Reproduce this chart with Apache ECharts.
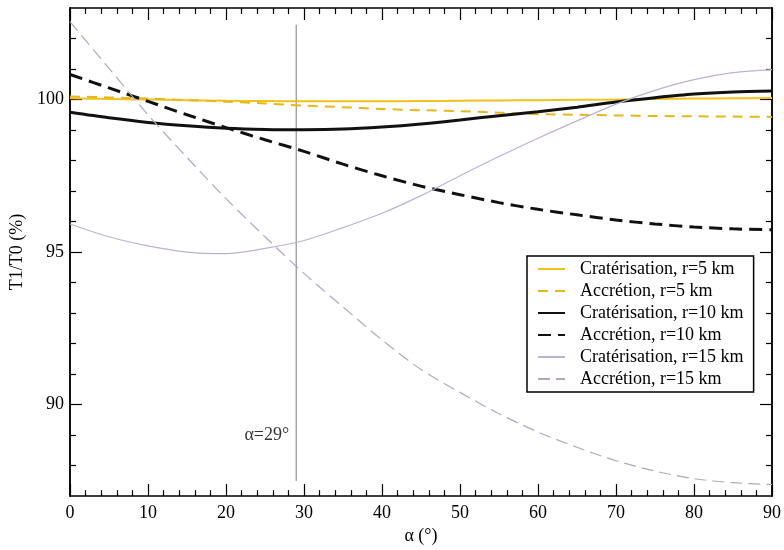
<!DOCTYPE html>
<html>
<head>
<meta charset="utf-8">
<script src="https://cdn.jsdelivr.net/npm/echarts@6/dist/echarts.min.js"></script>
<style>html,body{margin:0;padding:0;background:#fff}#c{width:784px;height:550px}</style>
</head>
<body>
<div id="c"></div>
<script>
const alpha = [0,5,10,15,20,25,30,35,40,45,50,55,60,65,70,75,80,85,90];
const crat5  = [100.04,100.02,100.0,99.98,99.96,99.95,99.94,99.94,99.94,99.95,99.96,99.97,99.98,99.99,100.0,100.02,100.03,100.04,100.05];
const accr5  = [100.1,100.07,100.03,99.98,99.93,99.87,99.8,99.75,99.69,99.65,99.62,99.57,99.52,99.5,99.48,99.46,99.45,99.44,99.43];
const crat10 = [99.58,99.4,99.25,99.14,99.06,99.02,99.01,99.03,99.1,99.2,99.33,99.47,99.6,99.75,99.92,100.06,100.18,100.25,100.28];
const accr10 = [100.82,100.38,99.94,99.5,99.08,98.68,98.3,97.88,97.5,97.16,96.88,96.62,96.4,96.22,96.05,95.92,95.82,95.76,95.73];
const crat15 = [95.92,95.5,95.2,95.0,94.95,95.12,95.38,95.8,96.27,96.85,97.5,98.13,98.73,99.3,99.85,100.3,100.65,100.88,100.98];
const accr15 = [102.55,101.02,99.5,98.1,96.75,95.5,94.3,93.2,92.12,91.15,90.4,89.7,89.1,88.6,88.16,87.82,87.57,87.44,87.38];
const refAlpha = 29;
const refLine = [102.45, 87.5];
const refLabelY = 89.0;
const yLabels = [90, 95, 100];
const yMinor = [88,89,91,92,93,94,96,97,98,99,101,102];
const names = ['Cratérisation, r=5 km','Accrétion, r=5 km','Cratérisation, r=10 km','Accrétion, r=10 km','Cratérisation, r=15 km','Accrétion, r=15 km'];

const FONT = 'Liberation Serif';
const pairs = arr => alpha.map((a,i)=>[a,arr[i]]);
function mk(name, data, color, width, type){
  return {name, type:'line', data:pairs(data), symbol:'none', smooth:0.3,
    lineStyle:{color, width, type}, itemStyle:{color, opacity:0}, z:3};
}
const yBase = {type:'value', min:87, max:103, splitLine:{show:false},
  axisLine:{show:true, lineStyle:{color:'#000', width:1.5}}};
const chart = echarts.init(document.getElementById('c'));
chart.setOption({
  animation:false,
  grid:{left:70, right:8, top:8, bottom:52},
  textStyle:{fontFamily:FONT},
  legend:{
    data:names, orient:'vertical', left:527, top:256,
    itemWidth:27, itemHeight:14, itemGap:4,
    padding:[4,10,4,10], borderColor:'#000', borderWidth:1.5,
    itemStyle:{opacity:0},
    textStyle:{fontFamily:FONT, fontSize:18, lineHeight:18, color:'#000', padding:[0,0,0,10]}
  },
  xAxis:[
    {type:'value', min:0, max:90, interval:10, position:'bottom',
     name:'α (°)', nameLocation:'middle', nameGap:30,
     nameTextStyle:{fontFamily:FONT, fontSize:18, color:'#000'},
     splitLine:{show:false},
     axisLine:{lineStyle:{color:'#000', width:1.5}},
     axisTick:{inside:true, length:12, lineStyle:{color:'#000', width:1.2}},
     minorTick:{show:true, splitNumber:5, length:6, lineStyle:{color:'#000', width:1.2}},
     axisLabel:{fontFamily:FONT, fontSize:18, color:'#000', margin:8}},
    {type:'value', min:0, max:90, interval:10, position:'top',
     splitLine:{show:false},
     axisLine:{lineStyle:{color:'#000', width:1.5}},
     axisTick:{inside:true, length:12, lineStyle:{color:'#000', width:1.2}},
     minorTick:{show:true, splitNumber:5, length:6, lineStyle:{color:'#000', width:1.2}},
     axisLabel:{show:false}}
  ],
  yAxis:[
    Object.assign({}, yBase, {position:'left',
      name:'T1/T0 (%)', nameLocation:'middle', nameGap:44, nameRotate:90,
      nameTextStyle:{fontFamily:FONT, fontSize:18, color:'#000'},
      axisTick:{inside:true, length:12, customValues:yLabels, lineStyle:{color:'#000', width:1.2}},
      axisLabel:{customValues:yLabels, fontFamily:FONT, fontSize:18, color:'#000', margin:6}}),
    Object.assign({}, yBase, {position:'left',
      axisTick:{inside:true, length:6, customValues:yMinor, lineStyle:{color:'#000', width:1.2}},
      axisLabel:{show:false}}),
    Object.assign({}, yBase, {position:'right',
      axisTick:{inside:true, length:12, customValues:yLabels, lineStyle:{color:'#000', width:1.2}},
      axisLabel:{show:false}}),
    Object.assign({}, yBase, {position:'right',
      axisTick:{inside:true, length:6, customValues:yMinor, lineStyle:{color:'#000', width:1.2}},
      axisLabel:{show:false}})
  ],
  series:[
    {name:'ref', type:'line', data:[[refAlpha, refLine[0]],[refAlpha, refLine[1]]], symbol:'none',
     lineStyle:{color:'#7a7a7a', width:1}, z:2, silent:true},
    {name:'reflabel', type:'scatter', data:[[refAlpha, refLabelY]], symbolSize:0,
     label:{show:true, position:'left', distance:7, formatter:'α=29°', fontFamily:FONT, fontSize:18, color:'#000'}, silent:true},
    mk(names[0], crat5, '#f2c21b', 2, 'solid'),
    mk(names[1], accr5, '#e9b71a', 2, [10,7]),
    mk(names[2], crat10, '#111111', 3, 'solid'),
    mk(names[3], accr10, '#111111', 3, [13,7]),
    mk(names[4], crat15, '#bfb0d6', 1.2, 'solid'),
    mk(names[5], accr15, '#b3a5c8', 1.2, [12,6])
  ]
});
</script>
</body>
</html>
